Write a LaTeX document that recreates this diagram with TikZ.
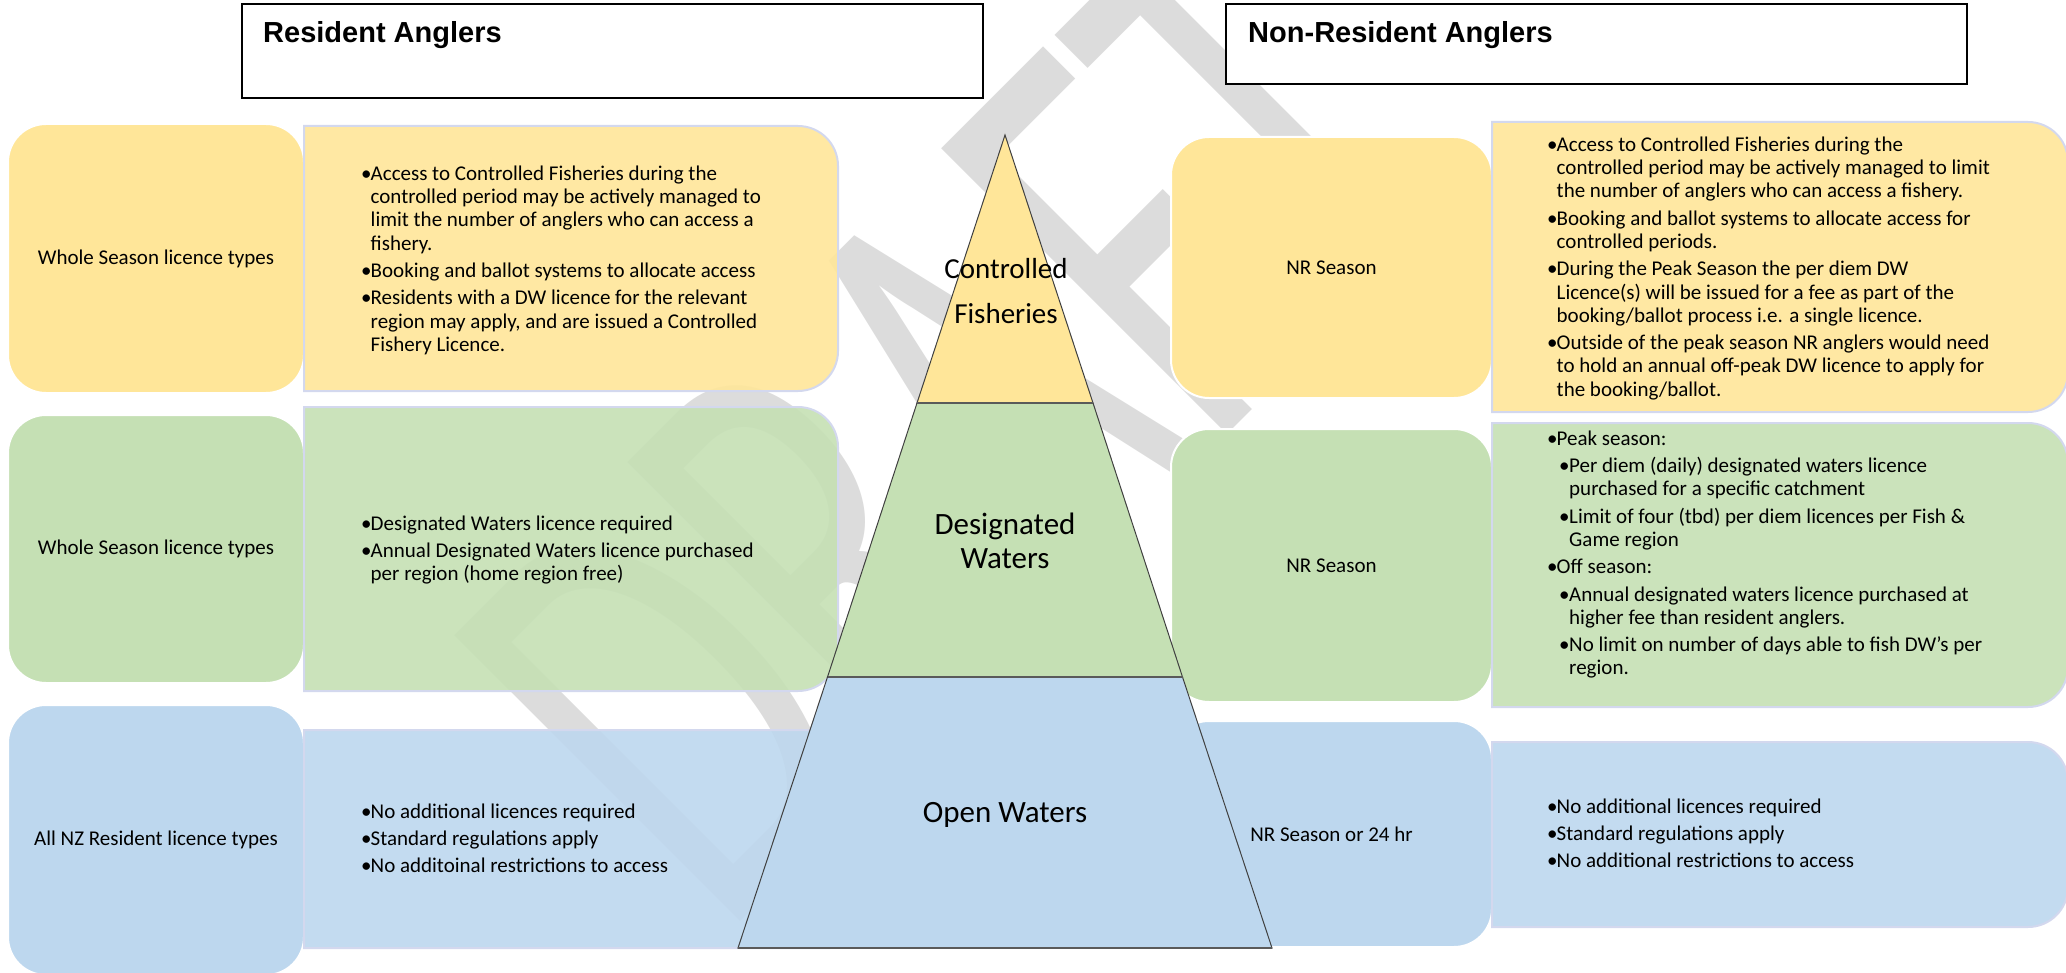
\documentclass[tikz,border=0pt]{standalone}
\usepackage{fontspec}
\setmainfont{Carlito}
\newfontfamily\headfont{Liberation Sans}
\usepackage{xcolor}
\usepackage{tikz}

\definecolor{tiergold}{HTML}{FFE699}
\definecolor{tiergreen}{HTML}{C5E0B4}
\definecolor{tierblue}{HTML}{BDD7EE}
\definecolor{boxrim}{HTML}{D3D8EE}
\definecolor{draftgrey}{HTML}{DCDCDC}
\definecolor{pyrline}{HTML}{404040}
\definecolor{pyrstep}{HTML}{5A5A5A}

\newcommand{\bodyfont}{\fontsize{21}{23.3}\selectfont}
\newcommand{\bul}{\makebox[9.5pt][l]{\textbullet}}
\newcommand{\ind}{\hspace*{9.5pt}}
\newcommand{\sbul}{\hspace*{12pt}\makebox[10pt][l]{\textbullet}}
\newcommand{\sind}{\hspace*{22pt}}

% notes panel: square on the left, rounded on the right
\newcommand{\panel}[5]{%
  \filldraw[draw=boxrim, line width=2pt, fill=#5, fill opacity=0.9]
    (#1,#2) -- ({#3-40},#2) arc[start angle=90, end angle=0, radius=40pt]
    -- (#3,{#4-40}) arc[start angle=0, end angle=-90, radius=40pt]
    -- (#1,#4) -- cycle;}

\begin{document}
\begin{tikzpicture}[x=1pt, y=-1pt,
    kindbox/.style={draw=white, line width=2pt, rounded corners=38pt,
      inner sep=0pt, align=center, font=\bodyfont},
    notes/.style={anchor=north west, inner sep=0pt, align=left, font=\bodyfont},
    headbox/.style={draw=black, line width=2.5pt, fill=white},
    headtext/.style={anchor=base west, inner sep=0pt,
      font=\headfont\bfseries\fontsize{29}{34}\selectfont},
    tier/.style={draw=pyrline, line width=1pt},
    tiertext/.style={inner sep=0pt, align=center}]

    % Page size
    \useasboundingbox (0,0) rectangle (2066,973);
    \clip (0,0) rectangle (2066,973);

    % Watermark behind everything
    \node[anchor=base west, inner sep=0pt, rotate=45, xscale=0.63, text=draftgrey,
          font=\fontsize{630}{630}\selectfont] (draft) at (721,941) {DRAFT};

    % Column headings
    \draw[headbox] (242,4) rectangle (983,98);
    \node[headtext] (reshead) at (263,43) {Resident Anglers};
    \draw[headbox] (1226,4) rectangle (1967,84);
    \node[headtext] (nrhead) at (1248,43) {Non-Resident Anglers};

    % Licence types, resident side
    \node[kindbox, fill=tiergold, minimum width=296pt, minimum height=269pt]
        (resgold) at (156,258.5) {Whole Season licence types};
    \node[kindbox, fill=tiergreen, minimum width=296pt, minimum height=268pt]
        (resgreen) at (156,549) {Whole Season licence types};
    \node[kindbox, fill=tierblue, minimum width=296pt, minimum height=270pt]
        (resblue) at (156,840) {All NZ Resident licence types};

    % Licence types, non-resident side
    \node[kindbox, fill=tiergold, minimum width=321pt, minimum height=261pt]
        (nrgold) at (1331.5,267.5) {NR Season};
    \node[kindbox, fill=tiergreen, minimum width=321pt, minimum height=273pt]
        (nrgreen) at (1331.5,565.5) {NR Season};
    \node[kindbox, fill=tierblue, minimum width=321pt, minimum height=226pt]
        (nrblue) at (1331.5,834) {NR Season or 24 hr};

    % Notes panels
    \panel{304}{126}{838}{391}{tiergold}
    \panel{304}{407}{838}{691}{tiergreen}
    \panel{304}{730}{870}{948}{tierblue}
    \panel{1492}{122}{2068}{412}{tiergold}
    \panel{1492}{423}{2068}{707}{tiergreen}
    \panel{1492}{742}{2068}{927}{tierblue}

    % Resident notes
    \node[notes] (resgoldnotes) at (361,163.7) {\strut\bul Access to Controlled Fisheries during the\\
        \ind controlled period may be actively managed to\\
        \ind limit the number of anglers who can access a\\
        \ind fishery.\\[4pt]
        \bul Booking and ballot systems to allocate access\\[4pt]
        \bul Residents with a DW licence for the relevant\\
        \ind region may apply, and are issued a Controlled\\
        \ind Fishery Licence.};
    \node[notes] (resgreennotes) at (361,513.7) {\strut\bul Designated Waters licence required\\[4pt]
        \bul Annual Designated Waters licence purchased\\
        \ind per region (home region free)};
    \node[notes] (resbluenotes) at (361,801.7) {\strut\bul No additional licences required\\[4pt]
        \bul Standard regulations apply\\[4pt]
        \bul No additoinal restrictions to access};

    % Non-resident notes
    \node[notes] (nrgoldnotes) at (1547,134.7) {\strut\bul Access to Controlled Fisheries during the\\
        \ind controlled period may be actively managed to limit\\
        \ind the number of anglers who can access a fishery.\\[4pt]
        \bul Booking and ballot systems to allocate access for\\
        \ind controlled periods.\\[4pt]
        \bul During the Peak Season the per diem DW\\
        \ind Licence(s) will be issued for a fee as part of the\\
        \ind booking/ballot process i.e. a single licence.\\[4pt]
        \bul Outside of the peak season NR anglers would need\\
        \ind to hold an annual off-peak DW licence to apply for\\
        \ind the booking/ballot.};
    \node[notes] (nrgreennotes) at (1547,428.7) {\strut\bul Peak season:\\[4pt]
        \sbul Per diem (daily) designated waters licence\\
        \sind purchased for a specific catchment\\[4pt]
        \sbul Limit of four (tbd) per diem licences per Fish \&\\
        \sind Game region\\[4pt]
        \bul Off season:\\[4pt]
        \sbul Annual designated waters licence purchased at\\
        \sind higher fee than resident anglers.\\[4pt]
        \sbul No limit on number of days able to fish DW's per\\
        \sind region.};
    \node[notes] (nrbluenotes) at (1547,796.7) {\strut\bul No additional licences required\\[4pt]
        \bul Standard regulations apply\\[4pt]
        \bul No additional restrictions to access};

    % Pyramid corners
    \coordinate (apex) at (1005,135);
    \coordinate (cl) at (917,403);
    \coordinate (cr) at (1093,403);
    \coordinate (dl) at (827.5,677);
    \coordinate (dr) at (1182.5,677);
    \coordinate (bl) at (738,948);
    \coordinate (br) at (1272,948);

    % Draw the three tiers
    \filldraw[tier, fill=tiergold] (apex) -- (cr) -- (cl) -- cycle;
    \filldraw[tier, fill=tiergreen] (cl) -- (cr) -- (dr) -- (dl) -- cycle;
    \filldraw[tier, fill=tierblue] (dl) -- (dr) -- (br) -- (bl) -- cycle;
    \draw[pyrstep, line width=1.5pt] (cl) -- (cr);
    \draw[pyrstep, line width=2.5pt] (dl) -- (dr);
    \draw[pyrstep, line width=2.5pt] (bl) -- (br);

    % Tier names
    \node[tiertext, anchor=north, font=\fontsize{29}{45}\selectfont]
        (ctlname) at (1006,246.5) {\strut Controlled\\Fisheries};
    \node[tiertext, anchor=north, font=\fontsize{31}{34}\selectfont]
        (dwname) at (1005,510.2) {\strut Designated\\Waters};
    \node[tiertext, anchor=base, font=\fontsize{31}{34}\selectfont]
        (owname) at (1005,822) {Open Waters};
\end{tikzpicture}
\end{document}
